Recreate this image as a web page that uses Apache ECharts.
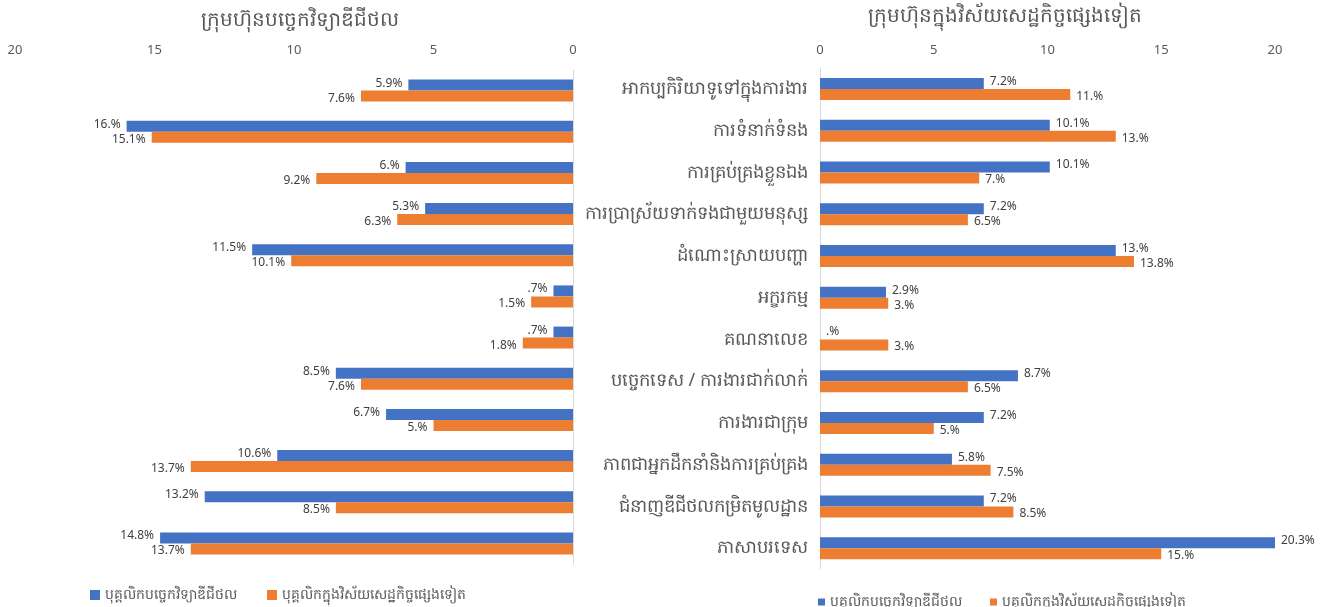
<!DOCTYPE html>
<html>
<head>
<meta charset="utf-8">
<script src="https://cdn.jsdelivr.net/npm/echarts@6/dist/echarts.min.js"></script>
<style>html,body{margin:0;padding:0;background:#fff}#c{width:1325px;height:607px}</style>
</head>
<body>
<div id="c"></div>
<script>
const categories = [
  'អាកប្បកិរិយាទូទៅក្នុងការងារ',
  'ការទំនាក់ទំនង',
  'ការគ្រប់គ្រងខ្លួនឯង',
  'ការប្រាស្រ័យទាក់ទងជាមួយមនុស្ស',
  'ដំណោះស្រាយបញ្ហា',
  'អក្ខរកម្ម',
  'គណនាលេខ',
  'បច្ចេកទេស / ការងារជាក់លាក់',
  'ការងារជាក្រុម',
  'ភាពជាអ្នកដឹកនាំនិងការគ្រប់គ្រង',
  'ជំនាញឌីជីថលកម្រិតមូលដ្ឋាន',
  'ភាសាបរទេស'
];
const seriesNames = ['បុគ្គលិកបច្ចេកវិទ្យាឌីជីថល', 'បុគ្គលិកក្នុងវិស័យសេដ្ឋកិច្ចផ្សេងទៀត'];
const titles = ['ក្រុមហ៊ុនបច្ចេកវិទ្យាឌីជីថល', 'ក្រុមហ៊ុនក្នុងវិស័យសេដ្ឋកិច្ចផ្សេងទៀត'];
// Left panel: digital tech companies
const leftDigital = [5.9, 16, 6, 5.3, 11.5, 0.7, 0.7, 8.5, 6.7, 10.6, 13.2, 14.8];
const leftOther   = [7.6, 15.1, 9.2, 6.3, 10.1, 1.5, 1.8, 7.6, 5, 13.7, 8.5, 13.7];
// Right panel: companies in other economic sectors
const rightDigital = [7.2, 10.1, 10.1, 7.2, 13, 2.9, 0, 8.7, 7.2, 5.8, 7.2, 20.3];
const rightOther   = [11, 13, 7, 6.5, 13.8, 3, 3, 6.5, 5, 7.5, 8.5, 15];
const axisTicks = [0, 5, 10, 15, 20];

const BLUE = '#4472C4', ORANGE = '#ED7D31', GREY = '#595959';
const FONT = '"Noto Sans", "DejaVu Sans", sans-serif';

function fmt(v) {
  let s = v.toFixed(1);
  if (s.endsWith('.0')) s = s.slice(0, -1);
  if (s.startsWith('0.')) s = s.slice(1);
  return s + '%';
}

const chart = echarts.init(document.getElementById('c'));
const xAxisBase = {
  type: 'value', position: 'top', min: axisTicks[0], max: axisTicks[axisTicks.length - 1], interval: 5,
  axisLine: {show: false}, axisTick: {show: false}, splitLine: {show: false},
  axisLabel: {color: GREY, fontSize: 13, fontFamily: FONT, margin: 13}
};
const yAxisBase = {
  type: 'category', data: categories, inverse: true,
  axisLine: {show: true, lineStyle: {color: '#d9d9d9', width: 1}}, axisTick: {show: false}
};
function bar(name, data, color, xi, pos, offY) {
  return {
    type: 'bar', name: name, data: data, xAxisIndex: xi, yAxisIndex: xi,
    barWidth: 11, barGap: '0%', itemStyle: {color: color},
    label: {show: true, position: pos, formatter: p => fmt(p.value), color: '#404040', fontSize: 12, fontFamily: FONT, offset: [0, offY], distance: 6},
    emphasis: {disabled: true}
  };
}
chart.setOption({
  animation: false,
  title: [
    {text: titles[0], left: 295, top: 5, textAlign: 'center', textStyle: {color: GREY, fontSize: 20, fontWeight: 'normal', fontFamily: FONT}},
    {text: titles[1], left: 1000, top: 1, textAlign: 'center', textStyle: {color: GREY, fontSize: 20, fontWeight: 'normal', fontFamily: FONT}}
  ],
  legend: [
    {data: seriesNames, left: 85, top: 583, itemWidth: 10, itemHeight: 10, itemGap: 30, icon: 'rect', textStyle: {color: GREY, fontSize: 14, fontFamily: FONT}},
    {data: seriesNames, left: 813, top: 590, itemWidth: 7, itemHeight: 7, itemGap: 28, icon: 'rect', textStyle: {color: GREY, fontSize: 14, fontFamily: FONT}}
  ],
  grid: [
    {left: 15, right: 752, top: 70, bottom: 43},
    {left: 820, right: 50, top: 68, bottom: 38}
  ],
  xAxis: [
    Object.assign({}, xAxisBase, {gridIndex: 0, inverse: true}),
    Object.assign({}, xAxisBase, {gridIndex: 1, axisLabel: Object.assign({}, xAxisBase.axisLabel, {margin: 11})})
  ],
  yAxis: [
    Object.assign({}, yAxisBase, {gridIndex: 0, position: 'right', axisLabel: {show: false}}),
    Object.assign({}, yAxisBase, {gridIndex: 1, position: 'left', axisLabel: {color: GREY, fontSize: 18, fontFamily: FONT, margin: 12}})
  ],
  series: [
    bar(seriesNames[0], leftDigital, BLUE, 0, 'left', -2),
    bar(seriesNames[1], leftOther, ORANGE, 0, 'left', 2),
    bar(seriesNames[0], rightDigital, BLUE, 1, 'right', -2),
    bar(seriesNames[1], rightOther, ORANGE, 1, 'right', 2)
  ]
});
</script>
</body>
</html>
